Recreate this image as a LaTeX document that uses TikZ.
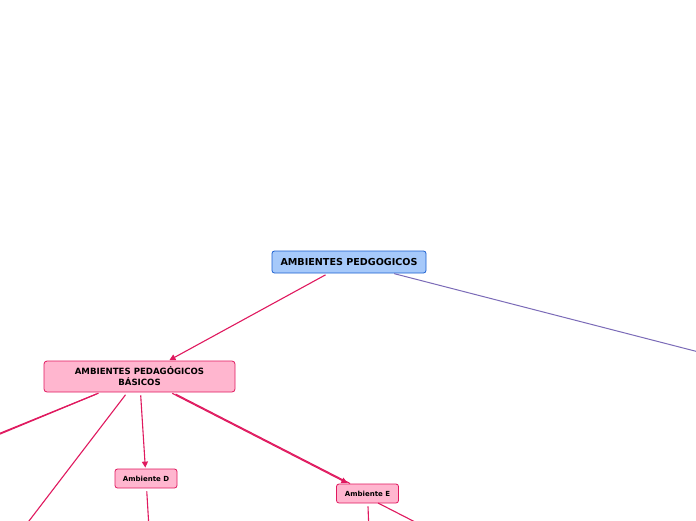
\documentclass[tikz,border=0pt]{standalone}
\usepackage{fontspec}
\setmainfont{DejaVu Sans}
\usetikzlibrary{arrows.meta,calc}
\definecolor{pinkline}{HTML}{E0195F}
\definecolor{pinkfill}{HTML}{FFB6CF}
\definecolor{bluefill}{HTML}{A6C9FA}
\definecolor{blueline}{HTML}{1A5FD0}
\definecolor{purpleline}{HTML}{7B6BB8}
\tikzset{
  x=1pt,y=-1pt,
  rootbox/.style={draw=blueline,fill=bluefill,rounded corners=2.5pt,line width=0.8pt,
    minimum width=154pt,minimum height=22pt,inner sep=0pt,font=\bfseries\fontsize{9.6}{10}\selectfont},
  mainbox/.style={draw=pinkline,fill=pinkfill,rounded corners=3pt,line width=0.8pt,
    minimum width=191pt,minimum height=31pt,inner sep=0pt,align=center,font=\bfseries\fontsize{8.6}{11}\selectfont},
  subbox/.style={draw=pinkline,fill=pinkfill,rounded corners=2.5pt,line width=0.8pt,
    minimum width=62pt,minimum height=19pt,inner sep=0pt,font=\bfseries\fontsize{7}{8}\selectfont},
  conn/.style={draw=pinkline,line width=1.1pt},
  arr/.style={conn,-{Triangle[length=6pt,width=6pt]},shorten >=1pt},
  pconn/.style={draw=purpleline,line width=1pt}
}
\begin{document}
\begin{tikzpicture}
\clip (0,0) rectangle (696,520);
\fill[white] (0,0) rectangle (696,520);
\node[rootbox] (root) at (349,262) {AMBIENTES PEDGOGICOS};
\node[mainbox] (bas) at (139.5,376.5) {AMBIENTES PEDAGÓGICOS\\BÁSICOS};
\node[subbox] (d) at (146,478.5) {Ambiente D};
\node[subbox] (e) at (367.5,493.5) {Ambiente E};
\coordinate (pend) at (792,376);
\coordinate (l1) at (-60,457.6);
\coordinate (l1s) at (96.5,394);
\coordinate (l1b) at (-60,459);
\coordinate (l2) at (-20,585);
\coordinate (dend) at (150,545);
\coordinate (e1end) at (369.5,545);
\coordinate (e2s) at (378,503);
\coordinate (e2end) at (460,545);
\coordinate (ebs) at (175.5,394);
\coordinate (eb) at (350,483.5);
% connectors
\draw[arr,shorten <=3pt] (root) -- (bas);
\draw[pconn,shorten <=1pt] (root) -- (pend);
\draw[conn,shorten <=2pt] (bas) -- (l1);
\draw[conn] (l1s) -- (l1b);
\draw[conn,shorten <=3pt] (bas) -- (l2);
\draw[arr,shorten <=3pt] (bas) -- (d);
\draw[arr,shorten <=2pt] (bas) -- (e);
\draw[conn] (ebs) -- (eb);
\draw[conn,shorten <=3pt] (d) -- (dend);
\draw[conn,shorten <=3pt] (e) -- (e1end);
\draw[conn] (e2s) -- (e2end);
\end{tikzpicture}
\end{document}
